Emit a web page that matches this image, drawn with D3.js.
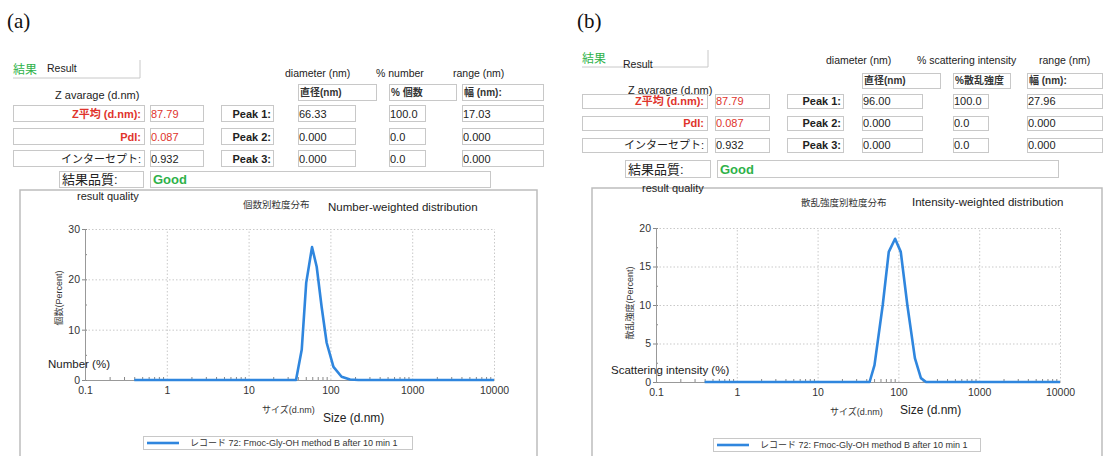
<!DOCTYPE html>
<html>
<head>
<meta charset="utf-8">
<script src="https://cdn.jsdelivr.net/npm/d3@7"></script>
<style>
  body { margin: 0; background: #fff; }
  svg { display: block; font-family: "Liberation Sans", Arial, "Noto Sans CJK JP", sans-serif; }
</style>
</head>
<body>
<div class="canvas"></div>
<script>
// size distribution data (size in d.nm, value in %)
const sizeA = [0.4, 38, 44.6, 50.6, 59.6, 68, 78, 90, 109, 137, 174, 220, 10000];
const numberA = [0, 0, 6.0, 19.3, 26.4, 22.5, 14.6, 7.4, 2.6, 0.65, 0.1, 0, 0];
const sizeB = [0.4, 44, 50.6, 64, 76, 91, 107, 129, 160, 190, 220, 10000];
const intensityB = [0, 0, 2.2, 10.0, 16.9, 18.6, 16.9, 10.0, 3.1, 0.5, 0, 0];

const xTicks = [0.1, 1, 10, 100, 1000, 10000];
const xTickLabels = ['0.1', '1', '10', '100', '1000', '10000'];
const yTicksA = [0, 10, 20, 30];
const yTicksB = [0, 5, 10, 15, 20];

// result table values
const rowLabels = ['Z平均 (d.nm):', 'PdI:', 'インターセプト:'];
const rowValues = ['87.79', '0.087', '0.932'];
const peakLabels = ['Peak 1:', 'Peak 2:', 'Peak 3:'];
const diamA = ['66.33', '0.000', '0.000'];
const pctA = ['100.0', '0.0', '0.0'];
const rangeA = ['17.03', '0.000', '0.000'];
const diamB = ['96.00', '0.000', '0.000'];
const pctB = ['100.0', '0.0', '0.0'];
const rangeB = ['27.96', '0.000', '0.000'];
const legendText = 'レコード 72: Fmoc-Gly-OH method B after 10 min 1';

const W = 1103, H = 456;
const blue = '#2f86de', red = '#e0342c', green = '#2fb24a', boxLine = '#c8c8c8';

const svg = d3.select('.canvas').append('svg')
  .attr('width', W).attr('height', H);

function txt(g, x, y, s, o = {}) {
  return g.append('text')
    .attr('x', x).attr('y', y)
    .attr('font-size', o.size || 11)
    .attr('font-weight', o.bold ? 'bold' : null)
    .attr('fill', o.fill || '#222')
    .attr('text-anchor', o.anchor || 'start')
    .attr('font-family', o.family || null)
    .text(s);
}

function box(g, x, y, w, h) {
  g.append('rect').attr('x', x + 0.5).attr('y', y + 0.5).attr('width', w).attr('height', h)
    .attr('fill', 'none').attr('stroke', boxLine).attr('stroke-width', 1);
}

function drawPanel(c) {
  const g = svg.append('g');

  txt(g, c.tag[0], c.tag[1], c.tagText, { size: 21, family: '"Liberation Serif", "Times New Roman", serif', fill: '#111' });

  // result header
  const rb = c.resultBox;
  g.append('path').attr('d', `M${rb.x},${rb.y + rb.h}H${rb.x + rb.w}V${rb.y}`)
    .attr('fill', 'none').attr('stroke', boxLine);
  txt(g, rb.jp[0], rb.jp[1], '結果', { size: 12, fill: green });
  txt(g, rb.en[0], rb.en[1], 'Result', { size: 10.5 });

  txt(g, c.zavg[0], c.zavg[1], 'Z avarage (d.nm)', { size: 11 });
  c.heads.forEach(h => txt(g, h.x, c.headY, h.t, { size: 10.5 }));

  // header cells of the peak table
  c.headBoxes.forEach(b => {
    box(g, b.x, c.headBoxY, b.w, c.headBoxH);
    txt(g, b.x + 2, c.headBoxY + c.headBoxH - 4, b.t, { size: 10, bold: true, fill: '#333' });
  });

  c.rowY.forEach((y, i) => {
    const h = c.rowH;
    const col = i < 2 ? red : '#222';
    box(g, c.labelBox.x, y, c.labelBox.w, h);
    txt(g, c.labelBox.x + c.labelBox.w - 3, y + h - 3.5, rowLabels[i], { size: 11, bold: i < 2, fill: col, anchor: 'end' });
    box(g, c.valBox.x, y, c.valBox.w, h);
    txt(g, c.valBox.x + 1, y + h - 3.5, rowValues[i], { size: 11, fill: col });
    box(g, c.peakBox.x, y, c.peakBox.w, h);
    txt(g, c.peakBox.x + c.peakBox.w - 2, y + h - 3.5, peakLabels[i], { size: 11, bold: true, anchor: 'end' });
    [c.diam, c.pct, c.range].forEach((arr, k) => {
      const b = c.cols[k];
      box(g, b.x, y, b.w, h);
      txt(g, b.x + 1, y + h - 3.5, arr[i], { size: 11 });
    });
  });

  // result quality
  const q = c.quality;
  box(g, q.x, q.y, q.w, q.h);
  txt(g, q.x + 3, q.y + q.h - 3.5, '結果品質:', { size: 13 });
  box(g, q.gx, q.y, q.gw, q.h);
  txt(g, q.gx + 3, q.y + q.h - 3.5, 'Good', { size: 13, bold: true, fill: green });

  // chart frame
  const f = c.frame;
  g.append('path').attr('d', `M${f.x},${H + 2}V${f.y}H${f.x + f.w}V${H + 2}`)
    .attr('fill', 'none').attr('stroke', '#bdbdbd').attr('stroke-width', 1.5);
  txt(g, c.rq[0], c.rq[1], 'result quality', { size: 11 });

  // plot
  const p = c.plot;
  const x = d3.scaleLog().domain([0.1, 10000]).range([p.left, p.right]);
  const y = d3.scaleLinear().domain([0, c.ymax]).range([p.bottom, p.top]);

  // dotted grid
  g.append('g').attr('transform', `translate(0,${p.bottom})`)
    .call(d3.axisBottom(x).tickValues(xTicks).tickSize(-(p.bottom - p.top)).tickFormat(''))
    .call(a => a.select('.domain').remove())
    .call(a => a.selectAll('line').attr('stroke', '#c9c9c9').attr('stroke-dasharray', '1.5,2'));
  g.append('g').attr('transform', `translate(${p.left},0)`)
    .call(d3.axisLeft(y).tickValues(c.yTicks).tickSize(-(p.right - p.left)).tickFormat(''))
    .call(a => a.select('.domain').remove())
    .call(a => a.selectAll('line').attr('stroke', '#c9c9c9').attr('stroke-dasharray', '1.5,2'));

  // x axis with minor ticks
  const minor = [];
  xTicks.slice(0, -1).forEach(d => { for (let k = 2; k <= 9; k++) minor.push(d * k); });
  g.append('g').attr('transform', `translate(0,${p.bottom})`)
    .call(d3.axisTop(x).tickValues(minor).tickSize(3).tickFormat(''))
    .call(a => a.select('.domain').remove())
    .call(a => a.selectAll('line').attr('stroke', '#888'));
  g.append('g').attr('transform', `translate(0,${p.bottom})`)
    .call(d3.axisBottom(x).tickValues(xTicks).tickSize(0).tickPadding(7).tickFormat((d, i) => xTickLabels[i]))
    .call(a => a.select('.domain').attr('stroke', '#999'))
    .call(a => a.selectAll('text').attr('font-size', 10.5).attr('fill', '#333').attr('font-family', null));

  // y axis with minor ticks
  const yMinor = d3.range(0, c.ymax + 0.01, c.yMinorStep);
  g.append('g').attr('transform', `translate(${p.left},0)`)
    .call(d3.axisRight(y).tickValues(yMinor).tickSize(2).tickFormat(''))
    .call(a => a.select('.domain').remove())
    .call(a => a.selectAll('line').attr('stroke', '#888'));
  g.append('g').attr('transform', `translate(${p.left},0)`)
    .call(d3.axisLeft(y).tickValues(c.yTicks).tickSize(3).tickPadding(2))
    .call(a => a.select('.domain').attr('stroke', '#999'))
    .call(a => a.selectAll('line').attr('stroke', '#888'))
    .call(a => a.selectAll('text').attr('font-size', 10.5).attr('fill', '#333').attr('font-family', null));

  // distribution curve
  const pts = c.xs.map((d, i) => [d, c.ys[i]]);
  g.append('path').datum(pts)
    .attr('fill', 'none').attr('stroke', blue).attr('stroke-width', 2.6)
    .attr('stroke-linejoin', 'round')
    .attr('d', d3.line().x(d => x(d[0])).y(d => y(d[1])));

  // titles and axis labels
  txt(g, c.titleJp[0], c.titleJp[1], c.titleJpText, { size: 9.5, fill: '#333' });
  txt(g, c.titleEn[0], c.titleEn[1], c.titleEnText, { size: 11.5 });
  g.append('text')
    .attr('transform', `translate(${c.yJp[0]},${c.yJp[1]}) rotate(-90)`)
    .attr('text-anchor', 'middle').attr('font-size', 9).attr('fill', '#333')
    .text(c.yJpText);
  txt(g, c.yEn[0], c.yEn[1], c.yEnText, { size: 11.5 });
  txt(g, c.xJp[0], c.xJp[1], 'サイズ(d.nm)', { size: 9, fill: '#333' });
  txt(g, c.xEn[0], c.xEn[1], 'Size (d.nm)', { size: 12 });

  // legend
  const l = c.legend;
  box(g, l.x, l.y, l.w, l.h);
  g.append('line').attr('x1', l.x + 4).attr('x2', l.x + 36)
    .attr('y1', l.y + l.h / 2 + 0.5).attr('y2', l.y + l.h / 2 + 0.5)
    .attr('stroke', blue).attr('stroke-width', 2.6);
  txt(g, l.x + 47, l.y + l.h - 3.5, legendText, { size: 9, fill: '#333' });
}

drawPanel({
  tag: [7, 28], tagText: '(a)',
  resultBox: { x: 13, y: 60, w: 127, h: 18, jp: [13, 74], en: [47, 72] },
  zavg: [55, 99],
  headY: 77,
  heads: [{ x: 285, t: 'diameter (nm)' }, { x: 376, t: '% number' }, { x: 453, t: 'range (nm)' }],
  headBoxY: 84, headBoxH: 16,
  headBoxes: [{ x: 298, w: 78, t: '直径(nm)' }, { x: 389, w: 67, t: '% 個数' }, { x: 462, w: 81, t: '幅 (nm):' }],
  rowY: [105, 128, 150], rowH: 16,
  labelBox: { x: 13, w: 131 }, valBox: { x: 150, w: 53 }, peakBox: { x: 221, w: 52 },
  cols: [{ x: 298, w: 57 }, { x: 389, w: 36 }, { x: 462, w: 81 }],
  diam: diamA, pct: pctA, range: rangeA,
  quality: { x: 59, y: 171, w: 84, h: 16, gx: 150, gw: 340 },
  frame: { x: 20, y: 190, w: 517 },
  rq: [77, 200],
  plot: { left: 85, right: 494, top: 229, bottom: 380 },
  ymax: 30, yTicks: yTicksA, yMinorStep: 5,
  xs: sizeA, ys: numberA,
  titleJp: [243, 208], titleJpText: '個数別粒度分布',
  titleEn: [328, 211], titleEnText: 'Number-weighted distribution',
  yJp: [62, 298], yJpText: '個数(Percent)',
  yEn: [48, 368], yEnText: 'Number (%)',
  xJp: [262, 413], xEn: [323, 422],
  legend: { x: 143, y: 436, w: 269, h: 13 }
});

drawPanel({
  tag: [577, 28], tagText: '(b)',
  resultBox: { x: 582, y: 50, w: 126, h: 17, jp: [582, 63], en: [623, 68] },
  zavg: [628, 94],
  headY: 64,
  heads: [{ x: 826, t: 'diameter (nm)' }, { x: 917, t: '% scattering intensity' }, { x: 1039, t: 'range (nm)' }],
  headBoxY: 73, headBoxH: 15,
  headBoxes: [{ x: 862, w: 78, t: '直径(nm)' }, { x: 953, w: 57, t: '%散乱強度' }, { x: 1027, w: 75, t: '幅 (nm):' }],
  rowY: [94, 116, 138], rowH: 14,
  labelBox: { x: 582, w: 125 }, valBox: { x: 715, w: 54 }, peakBox: { x: 787, w: 56 },
  cols: [{ x: 862, w: 60 }, { x: 953, w: 35 }, { x: 1027, w: 75 }],
  diam: diamB, pct: pctB, range: rangeB,
  quality: { x: 625, y: 160, w: 85, h: 17, gx: 717, gw: 341 },
  frame: { x: 592, y: 188, w: 510 },
  rq: [642, 192],
  plot: { left: 656, right: 1060, top: 228, bottom: 382 },
  ymax: 20, yTicks: yTicksB, yMinorStep: 2.5,
  xs: sizeB, ys: intensityB,
  titleJp: [801, 206], titleJpText: '散乱強度別粒度分布',
  titleEn: [912, 206], titleEnText: 'Intensity-weighted distribution',
  yJp: [633, 303], yJpText: '散乱強度(Percent)',
  yEn: [611, 374], yEnText: 'Scattering intensity (%)',
  xJp: [830, 415], xEn: [900, 414],
  legend: { x: 713, y: 438, w: 267, h: 13 }
});
</script>
</body>
</html>
